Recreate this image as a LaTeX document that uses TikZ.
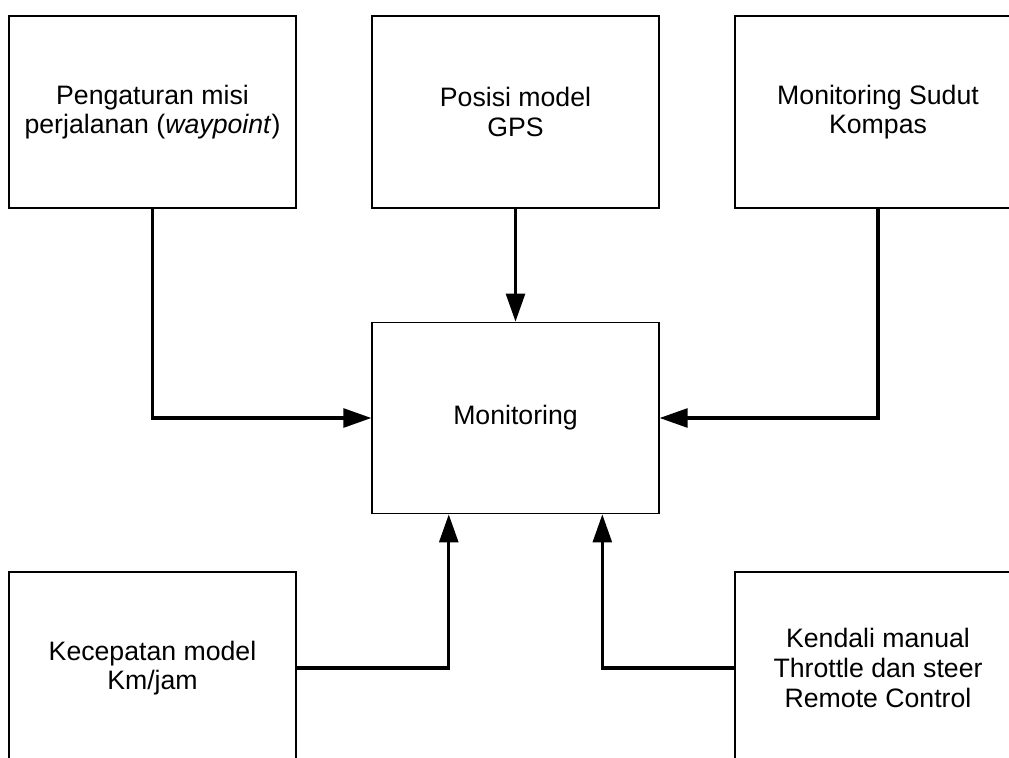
\documentclass[tikz,border=0pt]{standalone}
\usepackage{fontspec}
\setmainfont{Liberation Sans}
\usetikzlibrary{arrows.meta,calc}
\begin{document}
\begin{tikzpicture}[x=0.75pt,y=-0.75pt,
  box/.style={draw=black,line width=0.8pt,inner sep=0pt,align=center,
    minimum width=215.25pt,minimum height=144pt,
    font=\fontsize{20pt}{22.2pt}\selectfont},
  arr/.style={line width=2.6pt,-{Triangle[length=21pt,width=14pt]}}]
\clip (0,0) rectangle (1009,757);
\fill[white] (0,0) rectangle (1009,757);
\node[box] (A) at (152.5,112) {Pengaturan misi\\perjalanan (\textit{waypoint})};
\node[box] (B) at (515.5,112) {Posisi model\\GPS};
\node[box,minimum width=214.5pt] (C) at (878,112) {Monitoring Sudut\\Kompas};
\node[box,minimum height=143.6pt] (M) at (515.5,418) {Monitoring};
\node[box] (D) at (152.5,668) {Kecepatan model\\Km/jam};
\node[box,minimum width=214.5pt] (E) at (878,668) {Kendali manual\\Throttle dan steer\\Remote Control};
\coordinate (m1) at ($(M.south west)!0.2683!(M.south east)$);
\coordinate (m2) at ($(M.south west)!0.8014!(M.south east)$);
\draw[arr] (A.south) |- (M.west);
\draw[arr] (B.south) -- (M.north);
\draw[arr] (C.south) |- (M.east);
\draw[arr] (D.east) -| (m1);
\draw[arr] (E.west) -| (m2);
\end{tikzpicture}
\end{document}
